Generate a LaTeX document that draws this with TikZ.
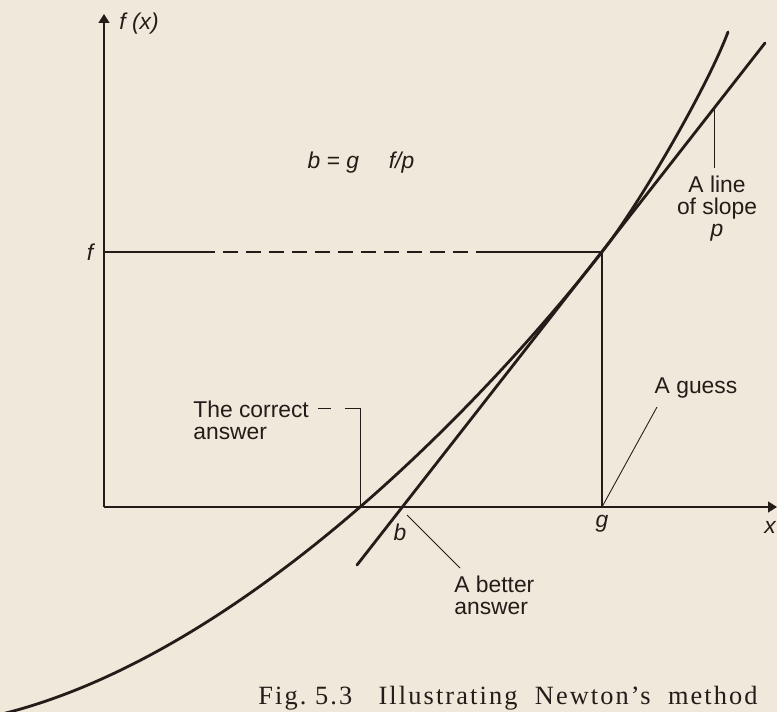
\documentclass[tikz,border=0pt]{standalone}
\usepackage{fontspec}
\setmainfont{Liberation Serif}
\setsansfont{Liberation Sans}
\usetikzlibrary{arrows.meta}

\definecolor{paper}{RGB}{240,232,218}
\definecolor{ink}{RGB}{36,28,24}

\tikzset{
  lbl/.style={font=\sffamily\fontsize{13}{12.5}\selectfont, text=ink, inner sep=0pt, align=left},
  var/.style={font=\sffamily\itshape\fontsize{13}{12.5}\selectfont, text=ink, inner sep=0pt},
  axis/.style={draw=ink, line width=1pt, -{Triangle[length=5pt,width=6pt]}},
  guide/.style={draw=ink, line width=0.8pt},
  leader/.style={draw=ink, line width=0.5pt},
  graph/.style={draw=ink, line width=1.6pt, line cap=round}
}

\begin{document}
\begin{tikzpicture}[x=0.02cm, y=-0.02cm]
  \fill[paper] (0,0) rectangle (777,712);
  \clip (0,0) rectangle (777,712);

  \coordinate (O) at (104,507);
  \coordinate (Ytop) at (104,14);
  \coordinate (Xend) at (777,507);
  \coordinate (F) at (104,252);
  \coordinate (P) at (602,252);
  \coordinate (G) at (602,507);
  \coordinate (R) at (360,507);
  \coordinate (B) at (402,507);
  \coordinate (Tlo) at (357,565);
  \coordinate (Thi) at (765,43);
  \coordinate (Tp) at (714,107);

  \draw[axis] (O) -- (Ytop);
  \draw[axis] (O) -- (Xend);

  \node[var] (fx) at (139,24) {f (x)};
  \node[var] (flbl) at (90,252) {f};
  \node[var] (glbl) at (602,524) {g};
  \node[var] (blbl) at (400,532) {b};
  \node[var] (xlbl) at (770,527) {x};
  \node[var] (rule) at (361,163) {b {\upshape=} g\hspace{1.3em}f/p};

  \draw[guide] (F) -- (200,252);
  \draw[guide, dash pattern=on 0.3cm off 0.16cm] (200,252) -- (480,252);
  \draw[guide] (480,252) -- (P);
  \draw[guide] (P) -- (G);

  \draw[graph] (2,714) .. controls (240,655) and (479,409) .. (P)
               .. controls (639,205) and (707,88) .. (728,32);
  \draw[graph] (Tlo) -- (Thi);

  \node[lbl, anchor=north west] (correct) at (193,401) {The correct\\answer};
  \draw[leader, dash pattern=on 0.26cm off 0.28cm on 10cm] (318,408) -- (360,408) -- (R);

  \node[lbl, anchor=north west] (better) at (454,576) {A better\\answer};
  \draw[leader] (407,515) -- (460,568);

  \node[lbl] (guess) at (696,388) {A guess};
  \draw[leader] (657,407) -- (G);

  \node[lbl, anchor=north, align=center] (slope) at (717,176) {A line\\of slope\\\textit{p}};
  \draw[leader] (Tp) -- (714,168);

  \node[font=\rmfamily\fontsize{15}{18}\selectfont\addfontfeature{LetterSpace=8}, text=ink, anchor=base west, inner sep=0pt] (caption) at (258,704) {Fig.~5.3\quad Illustrating\ \ Newton's\ \ method};
\end{tikzpicture}
\end{document}
